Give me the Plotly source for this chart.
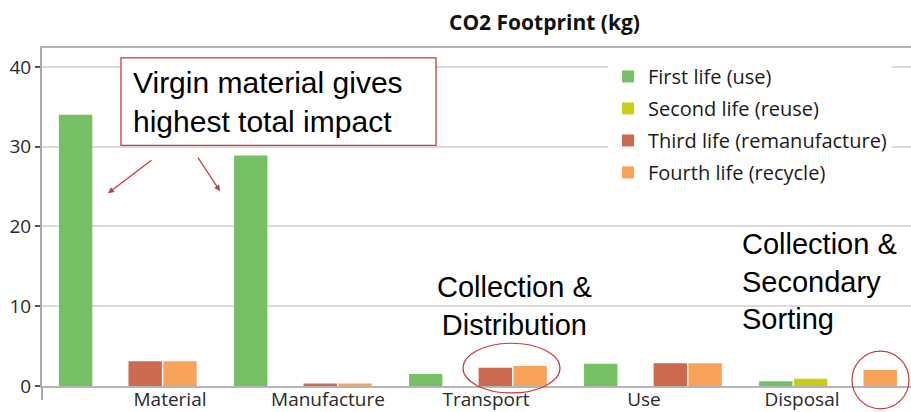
import plotly.graph_objects as go

categories = ["Material", "Manufacture", "Transport", "Use", "Disposal"]
first_life = [34.0, 28.9, 1.5, 2.8, 0.6]
second_life = [None, None, None, None, 0.9]
third_life = [3.1, 0.3, 2.3, 2.85, None]
fourth_life = [3.1, 0.3, 2.5, 2.85, 2.0]
series_names = ["First life (use)", "Second life (reuse)", "Third life (remanufacture)", "Fourth life (recycle)"]
series_colors = ["#77BF65", "#CACC1C", "#CB6A4F", "#F8A25A"]
y_ticks = [0, 10, 20, 30, 40]

W, H = 911, 412
L, R, T, B = 42, 0, 48, 24
PW, PH = W - L - R, H - T - B


def px(x):
    return (x - L) / PW


def py(y):
    return (H - B - y) / PH


fig = go.Figure()
for i, (name, vals, col) in enumerate(zip(series_names, [first_life, second_life, third_life, fourth_life], series_colors)):
    fig.add_trace(go.Bar(x=categories, y=vals, name=name, marker_color=col,
                         marker_line_width=0, legendgroup=f"g{i}"))

# invisible trace for label axis
fig.add_trace(go.Scatter(x=list(range(len(categories))), y=[None] * len(categories),
                         xaxis="x2", showlegend=False, hoverinfo="skip", mode="markers"))

red = "#C83A3A"
font_txt = "Liberation Sans, Arial, sans-serif"
font_ui = "Open Sans, sans-serif"

shapes = [
    dict(type="rect", xref="paper", yref="paper", x0=px(121), x1=px(436), y0=py(146), y1=py(58),
         line=dict(color=red, width=1.3), fillcolor="white", layer="above"),
    dict(type="circle", xref="paper", yref="paper", x0=px(463), x1=px(560), y0=py(395), y1=py(345),
         line=dict(color=red, width=1.2)),
    dict(type="circle", xref="paper", yref="paper", x0=px(852), x1=px(909), y0=py(411), y1=py(353),
         line=dict(color=red, width=1.2)),
    dict(type="line", xref="paper", yref="paper", x0=0, x1=0, y0=py(388), y1=py(402),
         line=dict(color="#A8A8A8", width=2)),
]

annotations = [
    dict(text="<b>CO2 Footprint (kg)</b>", xref="paper", yref="paper", x=px(544), y=py(22),
         xanchor="center", yanchor="middle",
         showarrow=False, font=dict(family=font_ui, size=21, color="#111")),
    dict(text="Virgin material gives<br>highest total impact", xref="paper", yref="paper",
         x=px(131), y=py(102), xanchor="left", yanchor="middle", align="left", showarrow=False,
         font=dict(family=font_txt, size=30, color="black")),
    dict(text="Collection &<br>Distribution", xref="paper", yref="paper",
         x=px(514), y=py(308), xanchor="center", yanchor="middle", align="center", showarrow=False,
         font=dict(family=font_txt, size=29, color="black")),
    dict(text="Collection &<br>Secondary<br>Sorting", xref="paper", yref="paper",
         x=px(740), y=py(283), xanchor="left", yanchor="middle", align="left", showarrow=False,
         font=dict(family=font_txt, size=29, color="black")),
    dict(text="", xref="paper", yref="paper", x=px(108), y=py(194), axref="pixel", ayref="pixel",
         ax=45, ay=-34, showarrow=True, arrowhead=2, arrowsize=1, arrowwidth=1.2, arrowcolor=red),
    dict(text="", xref="paper", yref="paper", x=px(220), y=py(192), axref="pixel", ayref="pixel",
         ax=-23, ay=-35, showarrow=True, arrowhead=2, arrowsize=1, arrowwidth=1.2, arrowcolor=red),
]

fig.update_layout(
    width=W, height=H,
    margin=dict(l=L, r=R, t=T, b=B, pad=0),
    paper_bgcolor="white", plot_bgcolor="white",
    barmode="group", bargap=0.205, bargroupgap=0.04,
    showlegend=True,
    legend=dict(x=px(608), y=py(57), xanchor="left", yanchor="top", bgcolor="white",
                font=dict(family=font_ui, size=20, color="#1a1a1a"), traceorder="grouped",
                tracegroupgap=3, itemclick=False),
    xaxis=dict(type="category", range=[-0.49, 4.474], showticklabels=False, ticks="",
               showline=True, linecolor="#B5B5B5", linewidth=2, mirror=True, showgrid=False,
               zeroline=False, fixedrange=True),
    xaxis2=dict(overlaying="x", anchor="y", side="bottom", range=[-0.81, 4.69],
                tickmode="array", tickvals=list(range(len(categories))), ticktext=categories,
                ticks="", showline=False, showgrid=False, zeroline=False,
                tickfont=dict(family=font_ui, size=19, color="#2a2a2a")),
    yaxis=dict(range=[0, (H - B - T) / 8.025], tickvals=y_ticks, ticks="outside", ticklen=5,
               tickcolor="#555", tickwidth=1.5, showline=True, linecolor="#A8A8A8", linewidth=2,
               showgrid=True, gridcolor="#DADADA", gridwidth=2, zeroline=False,
               tickfont=dict(family=font_ui, size=19, color="#2a2a2a")),
    shapes=shapes,
    annotations=annotations,
)

fig.write_html("out.html")
